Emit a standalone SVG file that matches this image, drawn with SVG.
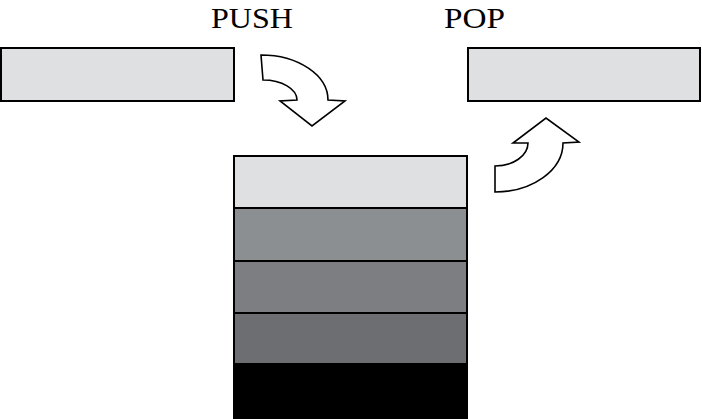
<svg xmlns="http://www.w3.org/2000/svg" width="702" height="419" viewBox="0 0 702 419">
<style>
.box{stroke:#000;stroke-width:2}
.arrow{fill:#fff;stroke:#000;stroke-width:1.6;stroke-linejoin:miter}
.lbl{font-family:"Liberation Serif","Times New Roman",serif;font-size:29px;fill:#000}
</style>
<rect width="702" height="419" fill="#fff"/>
<g id="push-label"><text class="lbl" x="211" y="28" textLength="82" lengthAdjust="spacingAndGlyphs">PUSH</text></g>
<g id="pop-label"><text class="lbl" x="444" y="28" textLength="61" lengthAdjust="spacingAndGlyphs">POP</text></g>
<g id="input-box"><rect class="box" x="1" y="48" width="233" height="53" fill="#dfe0e2"/></g>
<g id="output-box"><rect class="box" x="468" y="48" width="232" height="53" fill="#dfe0e2"/></g>
<g id="stack">
<rect class="box" x="234" y="156" width="233" height="52" fill="#dfe0e2"/>
<rect class="box" x="234" y="208" width="233" height="53" fill="#8c8f92"/>
<rect class="box" x="234" y="261" width="233" height="52" fill="#7d7e82"/>
<rect class="box" x="234" y="313" width="233" height="51" fill="#6d6e72"/>
<rect class="box" x="234" y="364" width="233" height="54" fill="#000"/>
</g>
<g id="connectors">
<path id="push-arrow" class="arrow" d="M261,55 A67,45 0 0 1 328,100 L345,101 L312,126 L280,101 L297,100 A34,20 0 0 0 263,80 Z"/>
<path id="pop-arrow" class="arrow" d="M495,192 A68,49 0 0 0 563,143 L579,142 L546,118 L513,143 L528,143 A33,23 0 0 1 495,166 Z"/>
</g>
</svg>
